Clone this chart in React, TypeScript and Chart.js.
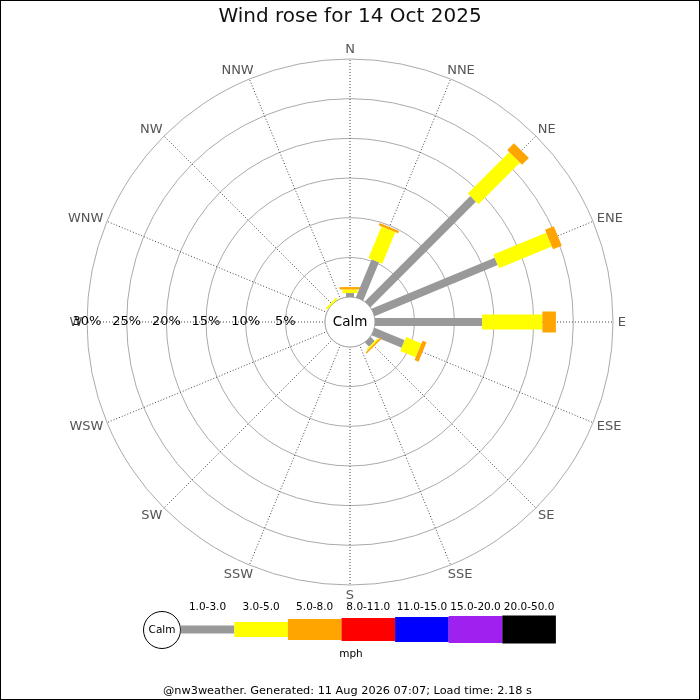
import React, { useEffect, useRef } from "react";
import { Chart, registerables } from "chart.js";

Chart.register(...registerables);

const FONT = '"DejaVu Sans", sans-serif';

// ---------- data ----------
const titleText = "Wind rose for 14 Oct 2025";
const footnoteText = "@nw3weather. Generated: 11 Aug 2026 07:07; Load time: 2.18 s";
const unitText = "mph";
const calmText = "Calm";

const directions = ["N", "NNE", "NE", "ENE", "E", "ESE", "SE", "SSE", "S", "SSW", "SW", "WSW", "W", "WNW", "NW", "NNW"];
const speedClasses = ["1.0-3.0", "3.0-5.0", "5.0-8.0", "8.0-11.0", "11.0-15.0", "15.0-20.0", "20.0-50.0"];

// percentage of time per direction, per speed class (mph)
const speed1to3 = [0.5, 5.2, 18.8, 16.8, 13.5, 4.1, 0.75, 0, 0, 0, 0, 0, 0, 0, 0, 0];
const speed3to5 = [0.45, 4.3, 7.4, 7.2, 7.6, 2.1, 0.2, 0, 0, 0, 0, 0, 0, 0, 0.25, 0];
const speed5to8 = [0.3, 0.3, 1.2, 1.2, 1.7, 0.55, 0.2, 0, 0, 0, 0, 0, 0, 0, 0, 0];
const speed8to11 = [0, 0, 0, 0, 0, 0, 0, 0, 0, 0, 0, 0, 0, 0, 0, 0];
const speed11to15 = [0, 0, 0, 0, 0, 0, 0, 0, 0, 0, 0, 0, 0, 0, 0, 0];
const speed15to20 = [0, 0, 0, 0, 0, 0, 0, 0, 0, 0, 0, 0, 0, 0, 0, 0];
const speed20to50 = [0, 0, 0, 0, 0, 0, 0, 0, 0, 0, 0, 0, 0, 0, 0, 0];

const ringTicks = [0, 5, 10, 15, 20, 25, 30];

// ---------- styles ----------
const speedColors = ["#999999", "#ffff00", "#ffa500", "#ff0000", "#0000ff", "#a020f0", "#000000"];
const barWidths = [8, 15, 21, 23, 25, 27, 28];

const windRosePlugin = {
  id: "windRose",
  beforeDatasetsDraw(chart: any) {
    const s = chart.scales.r;
    const ctx = chart.ctx;
    const r0 = s.getDistanceFromCenterForValue(0);
    ctx.save();
    // calm circle (covers the angle lines)
    ctx.beginPath();
    ctx.arc(s.xCenter, s.yCenter, r0, 0, Math.PI * 2);
    ctx.fillStyle = "#ffffff";
    ctx.fill();
    ctx.lineWidth = 1;
    ctx.strokeStyle = "#aaaaaa";
    ctx.stroke();

    // direction labels
    ctx.font = `13px ${FONT}`;
    ctx.fillStyle = "#555555";
    ctx.textAlign = "center";
    ctx.textBaseline = "middle";
    const labels = chart.data.labels as string[];
    labels.forEach((d, i) => {
      const a = s.getIndexAngle(i);
      const w = ctx.measureText(d).width;
      const h = 10;
      const sn = Math.sin(a);
      const cs = Math.cos(a);
      const p = s.getPointPosition(i, s.drawingArea + 4.7);
      const dx = Math.sign(sn) * Math.sqrt(Math.abs(sn)) * w / 2;
      const dy = -cs * h / 2;
      ctx.fillText(d, p.x + dx, p.y + dy + 0.5);
    });

    // percentage labels along the west axis
    ctx.font = `13px ${FONT}`;
    ctx.fillStyle = "#000000";
    s.ticks.forEach((t: any) => {
      if (t.value <= 0) return;
      const dist = s.getDistanceFromCenterForValue(t.value);
      ctx.fillText(t.label, s.xCenter - dist, s.yCenter);
    });
    ctx.restore();
  },
  afterDatasetsDraw(chart: any) {
    const s = chart.scales.r;
    const ctx = chart.ctx;
    const datasets = chart.data.datasets;
    ctx.save();
    // stacked radial bars
    const n = chart.data.labels.length;
    for (let i = 0; i < n; i++) {
      let cum = 0;
      const ang = s.getIndexAngle(i) - Math.PI / 2;
      datasets.forEach((ds: any, k: number) => {
        const v = ds.data[i];
        if (!v || v <= 0) return;
        const ra = s.getDistanceFromCenterForValue(cum);
        cum += v;
        const rb = s.getDistanceFromCenterForValue(cum);
        const w = barWidths[k];
        ctx.save();
        ctx.translate(s.xCenter, s.yCenter);
        ctx.rotate(ang);
        ctx.fillStyle = ds.backgroundColor;
        ctx.fillRect(ra, -w / 2, rb - ra, w);
        ctx.restore();
      });
    }
    // calm text
    ctx.font = `13.5px ${FONT}`;
    ctx.fillStyle = "#000000";
    ctx.textAlign = "center";
    ctx.textBaseline = "middle";
    ctx.fillText(calmText, s.xCenter, s.yCenter);

    // legend
    const cy = 629.5;
    ctx.beginPath();
    ctx.arc(162, 630, 18.5, 0, Math.PI * 2);
    ctx.fillStyle = "#ffffff";
    ctx.fill();
    ctx.strokeStyle = "#000000";
    ctx.lineWidth = 1;
    ctx.stroke();
    ctx.fillStyle = "#000000";
    ctx.font = `10.5px ${FONT}`;
    ctx.fillText(calmText, 162, 630.5);
    const x0 = 180.7;
    const segW = 53.6;
    datasets.forEach((ds: any, k: number) => {
      const h = barWidths[k];
      const x = x0 + k * segW;
      ctx.fillStyle = speedColors[k];
      ctx.fillRect(x, cy - h / 2, segW, h);
      ctx.fillStyle = "#000000";
      ctx.font = `10.5px ${FONT}`;
      ctx.fillText(ds.label, x + segW / 2, 607);
    });
    ctx.fillText(unitText, 351, 654);

    // footnote
    ctx.font = `11.3px ${FONT}`;
    ctx.textAlign = "left";
    ctx.fillText(footnoteText, 163, 691);

    // outer border
    ctx.strokeStyle = "#000000";
    ctx.lineWidth = 1;
    ctx.strokeRect(0.5, 0.5, chart.width - 1, chart.height - 1);
    ctx.restore();
  },
};

export default function App() {
  const canvasRef = useRef<HTMLCanvasElement | null>(null);

  useEffect(() => {
    if (!canvasRef.current) return;
    Chart.defaults.font.family = FONT;
    const series = [speed1to3, speed3to5, speed5to8, speed8to11, speed11to15, speed15to20, speed20to50];
    const chart = new Chart(canvasRef.current, {
      type: "radar",
      data: {
        labels: directions,
        datasets: speedClasses.map((c, k) => ({
          label: c,
          data: series[k],
          backgroundColor: speedColors[k],
          borderColor: speedColors[k],
          showLine: false,
          pointRadius: 0,
          pointHoverRadius: 0,
          borderWidth: 0,
          fill: false,
        })),
      },
      options: {
        responsive: false,
        animation: false,
        devicePixelRatio: 1,
        events: [],
        layout: { padding: { left: 87, right: 87, top: 0, bottom: 115 } },
        plugins: {
          legend: { display: false },
          tooltip: { enabled: false },
          title: {
            display: true,
            text: titleText,
            color: "#111111",
            font: { family: FONT, size: 20, weight: "normal" },
            padding: { top: 4.5, bottom: 30.5 },
          },
        },
        scales: {
          r: {
            min: -3.151,
            max: 30,
            startAngle: 0,
            afterBuildTicks: (sc: any) => {
              sc.ticks = ringTicks.map((v) => ({ value: v }));
            },
            ticks: {
              display: false,
              callback: (v: any) => `${v}%`,
            },
            grid: { circular: true, color: "#aaaaaa", lineWidth: 1 },
            angleLines: { display: true, color: "#444444", lineWidth: 1, borderDash: [1, 2] },
            pointLabels: { display: false },
          },
        },
      } as any,
      plugins: [windRosePlugin],
    });
    return () => chart.destroy();
  }, []);

  return (
    <div style={{ position: "absolute", left: 0, top: 0, width: 700, height: 700, background: "#ffffff" }}>
      <canvas ref={canvasRef} width={700} height={700} style={{ display: "block" }} />
    </div>
  );
}
